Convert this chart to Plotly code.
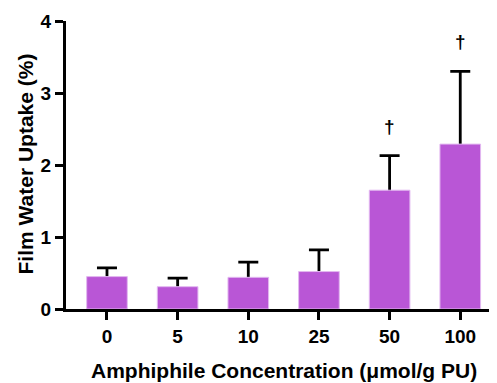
import plotly.graph_objects as go

categories = ["0", "5", "10", "25", "50", "100"]
uptake = [0.45, 0.31, 0.44, 0.52, 1.65, 2.29]
sd = [0.12, 0.12, 0.21, 0.30, 0.48, 1.01]
dagger_y = [None, None, None, None, 2.53, 3.71]

FONT = "Liberation Sans, Arial, sans-serif"
xs = list(range(len(categories)))

# page has an 8px body margin, so the figure is drawn 8px smaller and shifted
W, H = 489, 375
L, T, B, R = 58, 13, 74, 0
PW, PH = W - L - R, H - T - B

fig = go.Figure()
# error bars (symmetric) drawn first; lower half is hidden by the bars on top
fig.add_trace(go.Bar(
    x=xs, y=uptake, width=0.575,
    marker=dict(color="rgba(0,0,0,0)", line=dict(width=0)),
    error_y=dict(type="data", array=sd, color="black", thickness=2.8, width=10),
    hoverinfo="skip",
))
fig.add_trace(go.Bar(
    x=xs, y=uptake, width=0.575,
    marker=dict(color="#B956D6", line=dict(color="#E2B8F0", width=1)),
))

for i, dy in enumerate(dagger_y):
    if dy is not None:
        fig.add_annotation(x=i, y=dy, text="<b>†</b>", showarrow=False,
                           font=dict(family=FONT, size=19, color="black"),
                           xanchor="center", yanchor="middle")

fig.add_annotation(xref="paper", yref="paper", x=(283.5 - 66) / PW, y=-(370 - 309) / PH,
                   text="<b>Amphiphile Concentration (μmol/g PU)</b>", showarrow=False,
                   xanchor="center", yanchor="middle",
                   font=dict(family=FONT, size=21, color="black"))
fig.add_annotation(xref="paper", yref="paper", x=-(66 - 25) / PW, y=(309 - 164.5) / PH,
                   text="<b>Film Water Uptake (%)</b>", showarrow=False, textangle=-90,
                   xanchor="center", yanchor="middle",
                   font=dict(family=FONT, size=21, color="black"))

fig.update_layout(
    width=W, height=H,
    margin=dict(l=L, r=R, t=T, b=B, pad=0),
    plot_bgcolor="white", paper_bgcolor="white",
    showlegend=False,
    barmode="overlay",
)
fig.update_xaxes(
    range=[-0.58, 5.52], automargin=False,
    tickmode="array", tickvals=xs, ticktext=categories,
    showline=True, linecolor="black", linewidth=3,
    ticks="outside", ticklen=8, tickwidth=3, tickcolor="black",
    showgrid=False, zeroline=False,
    tickfont=dict(family=FONT, size=19, color="black", weight="bold"),
)
fig.update_yaxes(
    range=[0, 4], automargin=False,
    tickvals=[0, 1, 2, 3, 4],
    showline=True, linecolor="black", linewidth=3,
    ticks="outside", ticklen=8, tickwidth=3, tickcolor="black",
    showgrid=False, zeroline=False,
    tickfont=dict(family=FONT, size=19, color="black", weight="bold"),
)

fig.write_html("out.html")
